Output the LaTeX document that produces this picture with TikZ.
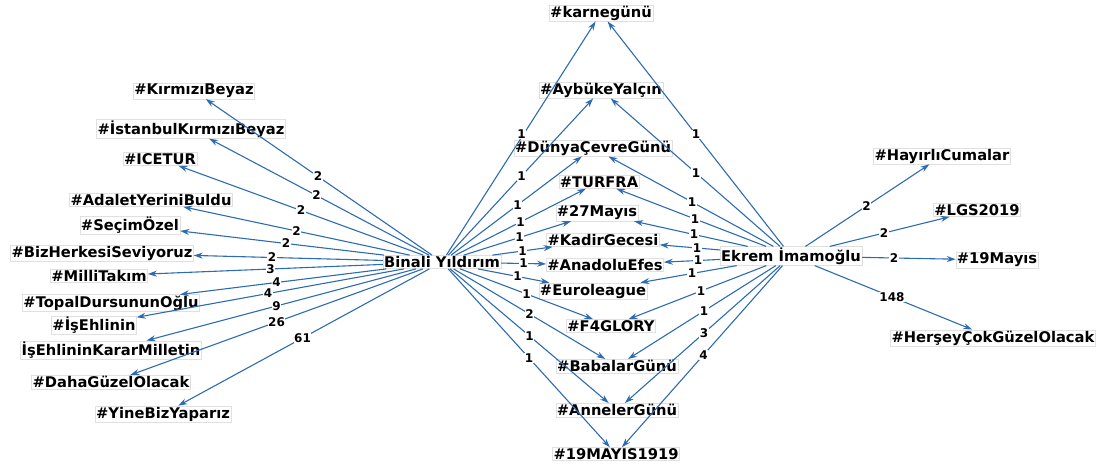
\documentclass[tikz,border=0pt]{standalone}
\usepackage{fontspec}
\setmainfont{DejaVu Sans}
\usetikzlibrary{arrows.meta,calc}
\definecolor{linkblue}{RGB}{46,108,178}
\tikzset{
	tag/.style={draw=black!12,fill=white,inner sep=1pt,font=\fontsize{14.7}{16}\selectfont\bfseries},
	link/.style={linkblue,line width=1.1pt,-{Stealth[length=9pt,width=6pt]}},
	wt/.style={fill=white,inner sep=0.6pt,font=\fontsize{12}{13}\selectfont\bfseries},
}
\begin{document}
\begin{tikzpicture}[x=1pt,y=-1pt]
			\useasboundingbox (0,0) rectangle (1104,466);
			% people
			\node[tag] (BY) at (442,262) {Binali Yıldırım};
			\node[tag] (EI) at (791,256) {Ekrem İmamoğlu};
			% left tags
			\node[tag] (L1) at (194,91) {\#KırmızıBeyaz};
			\node[tag] (L2) at (191,129) {\#İstanbulKırmızıBeyaz};
			\node[tag] (L3) at (160,159) {\#ICETUR};
			\node[tag] (L4) at (151,200) {\#AdaletYeriniBuldu};
			\node[tag] (L5) at (130,225) {\#SeçimÖzel};
			\node[tag] (L6) at (102,253) {\#BizHerkesiSeviyoruz};
			\node[tag] (L7) at (99,276) {\#MilliTakım};
			\node[tag] (L8) at (111,303) {\#TopalDursununOğlu};
			\node[tag] (L9) at (94,325) {\#İşEhlinin};
			\node[tag] (L10) at (111,350) {İşEhlininKararMilletin};
			\node[tag] (L11) at (111,382) {\#DahaGüzelOlacak};
			\node[tag] (L12) at (163,414) {\#YineBizYaparız};
			% shared tags
			\node[tag] (C1) at (601,13) {\#karnegünü};
			\node[tag] (C2) at (601,90) {\#AybükeYalçın};
			\node[tag] (C3) at (593,148) {\#DünyaÇevreGünü};
			\node[tag] (C4) at (599,182) {\#TURFRA};
			\node[tag] (C5) at (597,213) {\#27Mayıs};
			\node[tag] (C6) at (603,240) {\#KadirGecesi};
			\node[tag] (C7) at (605,265) {\#AnadoluEfes};
			\node[tag] (C8) at (593,291) {\#Euroleague};
			\node[tag] (C9) at (611,326) {\#F4GLORY};
			\node[tag] (C10) at (617,366) {\#BabalarGünü};
			\node[tag] (C11) at (617,410) {\#AnnelerGünü};
			\node[tag] (C12) at (616,454) {\#19MAYIS1919};
			% right tags
			\node[tag] (R1) at (942,156) {\#HayırlıCumalar};
			\node[tag] (R2) at (977,210) {\#LGS2019};
			\node[tag] (R3) at (997,260) {\#19Mayıs};
			\node[tag] (R4) at (993,338) {\#HerşeyÇokGüzelOlacak};
			% Binali -> tags
			\draw[link] (BY) -- (L1);
			\draw[link] (BY) -- (L2);
			\draw[link] (BY) -- (L3);
			\draw[link] (BY) -- (L4);
			\draw[link] (BY) -- (L5);
			\draw[link] (BY) -- (L6);
			\draw[link] (BY) -- (L7);
			\draw[link] (BY) -- (L8);
			\draw[link] (BY) -- (L9);
			\draw[link] (BY) -- (L10);
			\draw[link] (BY) -- (L11);
			\draw[link] (BY) -- (L12);
			\draw[link] (BY) -- (C1);
			\draw[link] (BY) -- (C2);
			\draw[link] (BY) -- (C3);
			\draw[link] (BY) -- (C4);
			\draw[link] (BY) -- (C5);
			\draw[link] (BY) -- (C6);
			\draw[link] (BY) -- (C7);
			\draw[link] (BY) -- (C8);
			\draw[link] (BY) -- (C9);
			\draw[link] (BY) -- (C10);
			\draw[link] (BY) -- (C11);
			\draw[link] (BY) -- (C12);
			% Ekrem -> tags
			\draw[link] (EI) -- (C1);
			\draw[link] (EI) -- (C2);
			\draw[link] (EI) -- (C3);
			\draw[link] (EI) -- (C4);
			\draw[link] (EI) -- (C5);
			\draw[link] (EI) -- (C6);
			\draw[link] (EI) -- (C7);
			\draw[link] (EI) -- (C8);
			\draw[link] (EI) -- (C9);
			\draw[link] (EI) -- (C10);
			\draw[link] (EI) -- (C11);
			\draw[link] (EI) -- (C12);
			\draw[link] (EI) -- (R1);
			\draw[link] (EI) -- (R2);
			\draw[link] (EI) -- (R3);
			\draw[link] (EI) -- (R4);
			% counts
			\node[wt] at ($(BY)!.5!(L1)$) {2};
			\node[wt] at ($(BY)!.5!(L2)$) {2};
			\node[wt] at ($(BY)!.5!(L3)$) {2};
			\node[wt] at ($(BY)!.5!(L4)$) {2};
			\node[wt] at ($(BY)!.5!(L5)$) {2};
			\node[wt] at ($(BY)!.5!(L6)$) {2};
			\node[wt] at ($(BY)!.5!(L7)$) {3};
			\node[wt] at ($(BY)!.5!(L8)$) {4};
			\node[wt] at ($(BY)!.5!(L9)$) {4};
			\node[wt] at ($(BY)!.5!(L10)$) {9};
			\node[wt] at ($(BY)!.5!(L11)$) {26};
			\node[wt] at ($(BY)!.5!(L12)$) {61};
			\node[wt] at ($(BY)!.5!(C1)+(0,-3)$) {1};
			\node[wt] at ($(BY)!.5!(C2)$) {1};
			\node[wt] at ($(BY)!.5!(C3)$) {1};
			\node[wt] at ($(BY)!.5!(C4)$) {1};
			\node[wt] at ($(BY)!.5!(C5)$) {1};
			\node[wt] at ($(BY)!.5!(C6)$) {1};
			\node[wt] at ($(BY)!.5!(C7)$) {1};
			\node[wt] at ($(BY)!.5!(C8)$) {1};
			\node[wt] at ($(BY)!.5!(C9)$) {1};
			\node[wt] at ($(BY)!.5!(C10)$) {2};
			\node[wt] at ($(BY)!.5!(C11)$) {1};
			\node[wt] at ($(BY)!.5!(C12)$) {1};
			\node[wt] at ($(EI)!.5!(C1)$) {1};
			\node[wt] at ($(EI)!.5!(C2)$) {1};
			\node[wt] at ($(EI)!.5!(C3)$) {1};
			\node[wt] at ($(EI)!.5!(C4)$) {1};
			\node[wt] at ($(EI)!.5!(C5)$) {1};
			\node[wt] at ($(EI)!.5!(C6)$) {1};
			\node[wt] at ($(EI)!.5!(C7)$) {1};
			\node[wt] at ($(EI)!.5!(C8)$) {1};
			\node[wt] at ($(EI)!.5!(C9)$) {1};
			\node[wt] at ($(EI)!.5!(C10)$) {1};
			\node[wt] at ($(EI)!.5!(C11)$) {3};
			\node[wt] at ($(EI)!.5!(C12)$) {4};
			\node[wt] at ($(EI)!.5!(R1)$) {2};
			\node[wt] at ($(EI)!.5!(R2)$) {2};
			\node[wt] at ($(EI)!.5!(R3)$) {2};
			\node[wt] at ($(EI)!.5!(R4)$) {148};
\end{tikzpicture}
\end{document}
